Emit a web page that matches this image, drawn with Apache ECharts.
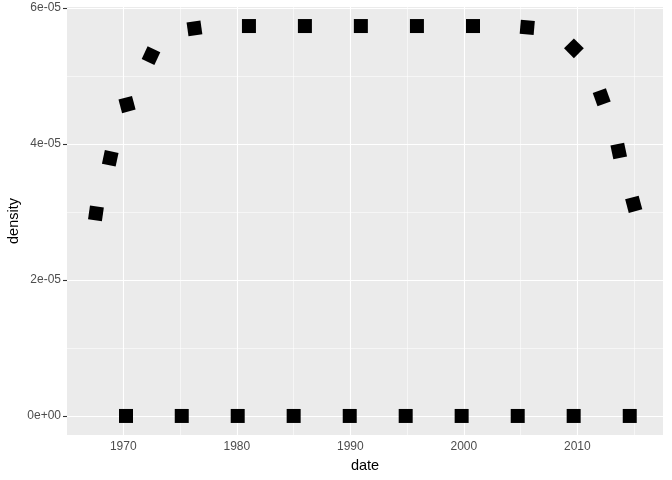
<!DOCTYPE html>
<html>
<head>
<meta charset="utf-8">
<script src="https://cdn.jsdelivr.net/npm/echarts@6/dist/echarts.min.js"></script>
<style>html,body{margin:0;padding:0;background:#fff;}#c{width:672px;height:480px;}</style>
</head>
<body>
<div id="c"></div>
<script>
// ---- data ----
const curveDates = [1967.59, 1968.85, 1970.33, 1972.44, 1976.27, 1981.07, 1986.0, 1990.93, 1995.87, 2000.81, 2005.59, 2009.70, 2012.15, 2013.65, 2014.97];
const curveDensity = [2.98e-5, 3.79e-5, 4.58e-5, 5.30e-5, 5.70e-5, 5.735e-5, 5.735e-5, 5.735e-5, 5.735e-5, 5.735e-5, 5.716e-5, 5.407e-5, 4.687e-5, 3.897e-5, 3.113e-5];
const rugDates = [1970.24, 1975.15, 1980.08, 1985.01, 1989.95, 1994.88, 1999.81, 2004.75, 2009.68, 2014.62];
const rugDensity = [0, 0, 0, 0, 0, 0, 0, 0, 0, 0];
const xTicks = [1970, 1980, 1990, 2000, 2010];
const xMinor = [1975, 1985, 1995, 2005, 2015];
const yTicks = [0, 2e-5, 4e-5, 6e-5];
const yTickLabels = ['0e+00', '2e-05', '4e-05', '6e-05'];
const yMinor = [1e-5, 3e-5, 5e-5];

// ---- styles ----
const markerAngles = [-8, -12, 15, -25, 8, 0, 0, 0, 0, 0, -5, 45, 20, 12, 15];

const X_MIN = 1965.04, X_MAX = 2017.55, Y_MIN = -2.8e-6, Y_MAX = 6.015e-5;

const chart = echarts.init(document.getElementById('c'), null, {renderer: 'canvas'});
const font = 'Liberation Sans, Arial, sans-serif';

const gridLines = [];
const vline = (v, w) => gridLines.push([{coord: [v, Y_MIN], lineStyle: {width: w}}, {coord: [v, Y_MAX]}]);
const hline = (v, w) => gridLines.push([{coord: [X_MIN, v], lineStyle: {width: w}}, {coord: [X_MAX, v]}]);
xMinor.forEach(v => vline(v, 0.55));
yMinor.forEach(v => hline(v, 0.55));
xTicks.forEach(v => vline(v, 1.1));
yTicks.forEach(v => hline(v, 1.1));

chart.setOption({
  animation: false,
  grid: {left: 67, right: 9, top: 7, bottom: 45, show: true, backgroundColor: '#EBEBEB', borderWidth: 0,
    containLabel: false, outerBoundsMode: 'none'},
  xAxis: {
    type: 'value', min: X_MIN, max: X_MAX,
    name: 'date', nameLocation: 'middle', nameGap: 23, nameMoveOverlap: false,
    nameTextStyle: {color: '#000', fontSize: 14.5, fontFamily: font},
    axisLine: {show: false},
    axisTick: {show: true, length: 4, lineStyle: {color: '#333', width: 1.1}, customValues: xTicks},
    axisLabel: {color: '#4D4D4D', fontSize: 12, fontFamily: font, margin: 6, customValues: xTicks,
      formatter: v => String(v)},
    splitLine: {show: false}
  },
  yAxis: {
    type: 'value', min: Y_MIN, max: Y_MAX,
    name: 'density', nameLocation: 'middle', nameGap: 46, nameMoveOverlap: false,
    nameTextStyle: {color: '#000', fontSize: 14.5, fontFamily: font},
    axisLine: {show: false},
    axisTick: {show: true, length: 4, lineStyle: {color: '#333', width: 1.1}, customValues: yTicks},
    axisLabel: {color: '#4D4D4D', fontSize: 12, fontFamily: font, margin: 6, customValues: yTicks,
      formatter: v => { const i = yTicks.findIndex(t => Math.abs(t - v) < 1e-9); return i >= 0 ? yTickLabels[i] : ''; }},
    splitLine: {show: false}
  },
  series: [
    {
      type: 'line', data: [], z: 1, silent: true,
      markLine: {silent: true, symbol: 'none', label: {show: false}, animation: false,
        lineStyle: {color: '#FFFFFF', type: 'solid', opacity: 1}, emphasis: {disabled: true}, data: gridLines}
    },
    {
      type: 'scatter', z: 5, symbol: 'rect', symbolSize: 14,
      itemStyle: {color: '#000000', opacity: 1},
      data: curveDates.map((d, i) => ({value: [d, curveDensity[i]], symbolRotate: markerAngles[i]}))
    },
    {
      type: 'scatter', z: 5, symbol: 'rect', symbolSize: 14,
      itemStyle: {color: '#000000', opacity: 1},
      data: rugDates.map((d, i) => [d, rugDensity[i]])
    }
  ]
});
</script>
</body>
</html>
